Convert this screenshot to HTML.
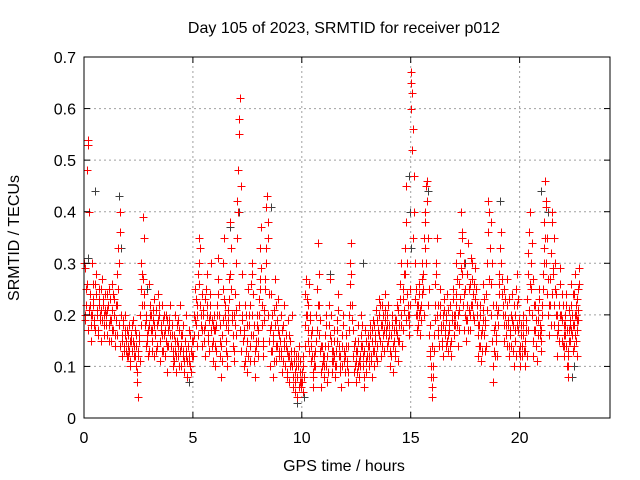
<!DOCTYPE html>
<html><head><meta charset="utf-8"><style>
body{margin:0;background:#fff}
svg{display:block;font-family:"Liberation Sans",sans-serif}
</style></head><body>
<svg id="chart" width="640" height="480" viewBox="0 0 640 480">
<rect width="640" height="480" fill="#fff"/>
<text x="344" y="33" font-size="16" text-anchor="middle" fill="#000">Day 105 of 2023, SRMTID for receiver p012</text>
<text x="344" y="471" font-size="16" text-anchor="middle" fill="#000">GPS time / hours</text>
<text transform="translate(19,238) rotate(-90)" font-size="16" text-anchor="middle" fill="#000">SRMTID / TECUs</text>
<g id="grid"></g><g id="gray"></g><g id="red"></g><g id="axes"></g>
</svg>
<script>
const xTicks=[0,5,10,15,20];
const yTicks=[0,0.1,0.2,0.3,0.4,0.5,0.6,0.7];
const yTickLabels=["0","0.1","0.2","0.3","0.4","0.5","0.6","0.7"];
const hourValues=[
[0.3,0.29,0.2,0.25,0.48,0.54,0.53,0.4,0.22,0.18,0.2,0.3,0.26,0.22,0.19,0.17,0.24,0.28,0.2,0.16,0.22,0.25,0.19,0.15,0.21,0.27,0.23,0.18,0.2,0.24],
[0.2,0.16,0.24,0.22,0.18,0.25,0.19,0.15,0.21,0.26,0.17,0.2,0.23,0.14,0.19,0.22,0.16,0.25,0.3,0.36,0.4,0.2,0.15,0.12,0.18,0.14,0.2,0.16,0.13,0.17],
[0.14,0.12,0.18,0.15,0.1,0.16,0.13,0.19,0.15,0.12,0.17,0.14,0.1,0.07,0.04,0.12,0.16,0.2,0.25,0.3,0.28,0.39,0.35,0.22,0.18,0.14,0.2,0.16,0.12,0.18],
[0.26,0.22,0.2,0.17,0.15,0.19,0.23,0.12,0.16,0.21,0.18,0.14,0.24,0.2,0.15,0.11,0.18,0.22,0.16,0.13,0.2,0.17,0.12,0.15,0.19,0.09,0.14,0.18,0.22,0.16],
[0.14,0.18,0.12,0.1,0.16,0.2,0.13,0.09,0.15,0.19,0.12,0.17,0.22,0.14,0.1,0.16,0.13,0.18,0.11,0.15,0.2,0.12,0.08,0.14,0.17,0.11,0.16,0.13,0.09,0.15],
[0.12,0.16,0.2,0.25,0.18,0.14,0.22,0.28,0.3,0.35,0.33,0.2,0.17,0.24,0.21,0.15,0.12,0.18,0.25,0.28,0.22,0.16,0.13,0.2,0.24,0.3,0.19,0.15,0.11,0.17],
[0.14,0.1,0.18,0.22,0.27,0.31,0.2,0.15,0.12,0.08,0.16,0.25,0.3,0.35,0.22,0.18,0.13,0.1,0.17,0.21,0.27,0.38,0.33,0.25,0.19,0.14,0.11,0.2,0.24,0.16],
[0.3,0.42,0.48,0.55,0.58,0.62,0.45,0.28,0.2,0.15,0.1,0.17,0.22,0.13,0.09,0.18,0.25,0.2,0.14,0.11,0.16,0.28,0.3,0.24,0.18,0.13,0.08,0.15,0.2,0.12],
[0.17,0.23,0.27,0.33,0.37,0.22,0.15,0.12,0.19,0.25,0.3,0.41,0.43,0.35,0.2,0.15,0.1,0.18,0.24,0.13,0.08,0.16,0.21,0.27,0.14,0.11,0.19,0.23,0.16,0.12],
[0.15,0.2,0.12,0.09,0.18,0.14,0.22,0.1,0.16,0.13,0.08,0.19,0.12,0.07,0.15,0.11,0.2,0.1,0.06,0.13,0.09,0.05,0.12,0.08,0.04,0.1,0.14,0.07,0.11,0.06],
[0.09,0.05,0.12,0.08,0.18,0.24,0.27,0.2,0.15,0.22,0.26,0.19,0.14,0.11,0.17,0.08,0.06,0.12,0.1,0.15,0.2,0.25,0.34,0.22,0.16,0.13,0.09,0.06,0.14,0.11],
[0.08,0.12,0.16,0.2,0.1,0.07,0.14,0.18,0.22,0.27,0.15,0.11,0.09,0.13,0.17,0.12,0.08,0.1,0.15,0.19,0.24,0.14,0.09,0.12,0.06,0.1,0.16,0.2,0.13,0.09],
[0.12,0.16,0.1,0.07,0.14,0.2,0.26,0.3,0.34,0.22,0.17,0.12,0.09,0.15,0.11,0.07,0.13,0.18,0.1,0.08,0.12,0.16,0.2,0.14,0.1,0.06,0.13,0.17,0.11,0.09],
[0.12,0.16,0.1,0.14,0.18,0.12,0.08,0.15,0.19,0.13,0.1,0.16,0.21,0.14,0.11,0.17,0.2,0.23,0.15,0.12,0.18,0.22,0.16,0.13,0.19,0.24,0.17,0.14,0.2,0.15],
[0.18,0.13,0.1,0.16,0.2,0.14,0.09,0.15,0.19,0.12,0.17,0.22,0.15,0.11,0.18,0.26,0.3,0.2,0.14,0.17,0.23,0.28,0.33,0.38,0.45,0.3,0.22,0.16,0.2,0.25],
[0.67,0.65,0.63,0.56,0.47,0.4,0.3,0.25,0.2,0.22,0.18,0.24,0.2,0.16,0.22,0.27,0.3,0.25,0.2,0.33,0.38,0.45,0.46,0.42,0.35,0.25,0.18,0.13,0.1,0.06],
[0.04,0.08,0.13,0.19,0.26,0.3,0.35,0.22,0.17,0.14,0.2,0.25,0.18,0.15,0.12,0.2,0.23,0.17,0.14,0.19,0.24,0.16,0.13,0.18,0.22,0.15,0.12,0.19,0.25,0.2],
[0.16,0.2,0.24,0.3,0.18,0.14,0.21,0.26,0.32,0.4,0.36,0.28,0.22,0.17,0.24,0.2,0.15,0.19,0.28,0.34,0.25,0.2,0.17,0.22,0.27,0.3,0.24,0.19,0.23,0.29],
[0.25,0.2,0.16,0.12,0.18,0.22,0.14,0.11,0.17,0.21,0.26,0.16,0.13,0.19,0.24,0.3,0.36,0.42,0.4,0.33,0.26,0.2,0.15,0.1,0.07,0.13,0.18,0.22,0.16,0.12],
[0.18,0.24,0.28,0.33,0.36,0.3,0.24,0.2,0.15,0.25,0.2,0.16,0.22,0.27,0.18,0.14,0.12,0.16,0.2,0.24,0.19,0.13,0.1,0.15,0.2,0.25,0.28,0.22,0.17,0.13],
[0.1,0.14,0.18,0.12,0.16,0.2,0.13,0.1,0.15,0.19,0.23,0.28,0.32,0.36,0.4,0.3,0.25,0.2,0.15,0.12,0.17,0.22,0.19,0.14,0.11,0.16,0.21,0.25,0.18,0.13],
[0.17,0.22,0.28,0.33,0.38,0.46,0.42,0.3,0.24,0.2,0.16,0.22,0.27,0.32,0.38,0.4,0.28,0.22,0.18,0.25,0.2,0.16,0.12,0.18,0.22,0.26,0.29,0.2,0.15,0.19],
[0.14,0.18,0.12,0.16,0.2,0.24,0.14,0.1,0.08,0.13,0.17,0.21,0.15,0.18,0.22,0.26,0.2,0.16,0.13,0.18,0.24,0.28,0.2,0.15,0.22,0.17,0.12,0.19,0.25,0.29]
];
const hourValuesB=[
[0.19,0.22,0.26,0.17,0.21,0.24,0.15,0.2,0.23,0.18,0.26,0.21,0.17,0.23,0.2,0.25,0.19,0.22,0.16,0.21],
[0.18,0.21,0.15,0.23,0.19,0.17,0.24,0.2,0.16,0.22,0.28,0.33,0.18,0.14,0.16,0.19,0.13,0.17,0.15,0.12],
[0.16,0.13,0.11,0.15,0.18,0.14,0.12,0.16,0.09,0.13,0.15,0.11,0.18,0.22,0.27,0.24,0.19,0.15,0.17,0.13],
[0.2,0.17,0.13,0.21,0.18,0.16,0.13,0.19,0.22,0.15,0.17,0.13,0.19,0.16,0.12,0.2,0.14,0.17,0.19,0.14],
[0.16,0.13,0.11,0.15,0.12,0.18,0.14,0.1,0.13,0.16,0.12,0.09,0.15,0.13,0.11,0.14,0.12,0.1,0.13,0.12],
[0.15,0.19,0.23,0.2,0.16,0.26,0.22,0.18,0.14,0.2,0.17,0.23,0.2,0.15,0.19,0.22,0.17,0.14,0.18,0.2],
[0.17,0.13,0.2,0.24,0.18,0.14,0.11,0.19,0.23,0.2,0.15,0.12,0.19,0.23,0.28,0.2,0.16,0.13,0.18,0.21],
[0.35,0.4,0.22,0.17,0.13,0.19,0.16,0.11,0.2,0.15,0.12,0.18,0.22,0.26,0.2,0.16,0.11,0.14,0.18,0.15],
[0.2,0.25,0.29,0.18,0.14,0.21,0.27,0.33,0.38,0.24,0.17,0.13,0.2,0.15,0.11,0.18,0.22,0.14,0.17,0.13],
[0.13,0.17,0.11,0.15,0.1,0.14,0.09,0.12,0.16,0.1,0.13,0.08,0.11,0.07,0.1,0.08,0.12,0.06,0.09,0.07],
[0.07,0.1,0.14,0.2,0.23,0.17,0.13,0.2,0.16,0.12,0.09,0.1,0.13,0.17,0.22,0.28,0.19,0.14,0.1,0.12],
[0.1,0.14,0.18,0.12,0.09,0.16,0.2,0.13,0.11,0.15,0.1,0.13,0.17,0.21,0.12,0.1,0.14,0.18,0.11,0.12],
[0.14,0.11,0.09,0.17,0.22,0.28,0.19,0.14,0.1,0.13,0.09,0.15,0.11,0.1,0.14,0.18,0.12,0.08,0.15,0.12],
[0.14,0.12,0.16,0.11,0.17,0.13,0.18,0.15,0.12,0.19,0.16,0.22,0.18,0.14,0.2,0.17,0.21,0.16,0.18,0.22],
[0.16,0.12,0.18,0.14,0.17,0.13,0.19,0.16,0.21,0.15,0.23,0.18,0.25,0.21,0.28,0.19,0.24,0.2,0.18,0.22],
[0.6,0.52,0.35,0.23,0.2,0.17,0.22,0.26,0.21,0.19,0.24,0.28,0.35,0.4,0.3,0.22,0.16,0.12,0.08,0.14],
[0.1,0.16,0.22,0.28,0.2,0.16,0.22,0.17,0.14,0.18,0.21,0.16,0.2,0.15,0.21,0.17,0.14,0.2,0.23,0.18],
[0.18,0.22,0.27,0.2,0.17,0.23,0.29,0.35,0.3,0.25,0.19,0.22,0.17,0.21,0.26,0.31,0.22,0.2,0.26,0.25],
[0.22,0.18,0.14,0.2,0.16,0.13,0.19,0.23,0.18,0.14,0.21,0.27,0.33,0.38,0.3,0.22,0.17,0.12,0.15,0.2],
[0.21,0.26,0.3,0.27,0.22,0.18,0.23,0.18,0.14,0.19,0.23,0.17,0.14,0.18,0.22,0.17,0.12,0.18,0.23,0.19],
[0.12,0.16,0.14,0.18,0.13,0.17,0.12,0.17,0.21,0.26,0.3,0.34,0.27,0.22,0.17,0.14,0.19,0.23,0.16,0.15],
[0.2,0.25,0.3,0.35,0.41,0.35,0.27,0.22,0.18,0.24,0.29,0.35,0.3,0.24,0.2,0.17,0.15,0.2,0.24,0.22],
[0.16,0.14,0.18,0.22,0.17,0.12,0.1,0.15,0.19,0.17,0.2,0.24,0.18,0.14,0.16,0.2,0.23,0.19,0.21,0.26]
];
const grayTimes=[0.2,0.5,1.6,1.7,2.9,4.8,6.7,7.1,8.6,9.8,10.1,11.3,12.8,14.9,14.95,15.0,15.8,17.5,19.1,21.0,21.3,22.4,22.5];
const grayValues=[0.31,0.44,0.43,0.33,0.25,0.07,0.37,0.4,0.41,0.03,0.04,0.28,0.3,0.47,0.4,0.33,0.44,0.3,0.42,0.44,0.4,0.08,0.1];

const X0=84,X1=610,Y0=418,Y1=57,XMAX=24.15,YMAX=0.7;
const xs=t=>X0+t/XMAX*(X1-X0);
const ys=v=>Y0-v/YMAX*(Y0-Y1);
const NS="http://www.w3.org/2000/svg";
function mk(tag,attrs,parent){const e=document.createElementNS(NS,tag);for(const k in attrs)e.setAttribute(k,attrs[k]);parent.appendChild(e);return e;}
const grid=document.getElementById('grid'),axes=document.getElementById('axes');
yTicks.forEach((v,i)=>{
  const y=ys(v);
  if(i>0&&i<yTicks.length-1){const g=mk('line',{x1:X0,x2:X1,y1:y,y2:y,stroke:'#a0a0a0','stroke-dasharray':'2,3'},grid);
  
  }
  mk('line',{x1:X0,x2:X0+6,y1:y,y2:y,stroke:'#000'},axes);
  mk('line',{x1:X1,x2:X1-6,y1:y,y2:y,stroke:'#000'},axes);
  const t=mk('text',{x:X0-8,y:y+6,'font-size':16,'text-anchor':'end',fill:'#000'},axes);t.textContent=yTickLabels[i];
  
  
});
xTicks.forEach(v=>{
  const x=xs(v);
  if(v>0){const g=mk('line',{x1:x,x2:x,y1:Y0,y2:Y1,stroke:'#a0a0a0','stroke-dasharray':'2,3'},grid);
  
  }
  mk('line',{x1:x,x2:x,y1:Y0,y2:Y0-6,stroke:'#000'},axes);
  mk('line',{x1:x,x2:x,y1:Y1,y2:Y1+6,stroke:'#000'},axes);
  const t=mk('text',{x:x,y:Y0+25,'font-size':16,'text-anchor':'middle',fill:'#000'},axes);t.textContent=String(v);
  
  
});
const frame=mk('rect',{x:X0,y:Y1,width:X1-X0,height:Y0-Y1,fill:'none',stroke:'#000'},axes);


function plus(t,v,color,parent,name){
  const x=Math.round(xs(t))+0.5,y=Math.round(ys(v))+0.5;
  const p=mk('path',{d:`M${x-4},${y}h8M${x},${y-4}v8`,stroke:color,'stroke-width':1,fill:'none'},parent);
  
  
}
const grayG=document.getElementById('gray'),redG=document.getElementById('red');
grayTimes.forEach((t,i)=>plus(t,grayValues[i],'#404040',grayG,'gray-point'));
hourValues.forEach((arr,h)=>{
  const span=h===22?0.75:1;
  arr.forEach((v,i)=>plus(h+i*span/arr.length,v,'#ff0000',redG,'red-point'));
});
hourValuesB.forEach((arr,h)=>{
  const span=h===22?0.75:1;
  arr.forEach((v,i)=>plus(h+(i+0.5)*span/arr.length,v,'#ff0000',redG,'red-point'));
});
</script>
</body></html>
